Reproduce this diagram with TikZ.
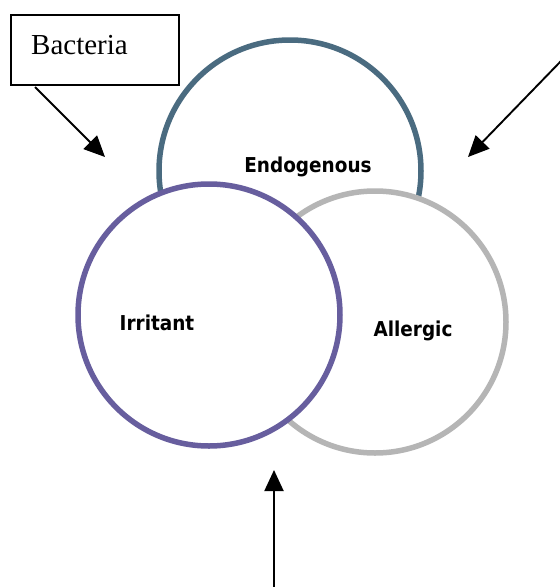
\documentclass[tikz,border=0pt]{standalone}
\usepackage{fontspec}
\setmainfont{Liberation Serif}
\newfontfamily\labelfont{DejaVu Sans Condensed}
\usetikzlibrary{arrows.meta,positioning}
\definecolor{endocol}{HTML}{4A6B80}
\definecolor{irrcol}{HTML}{675E9E}
\definecolor{allcol}{HTML}{B5B5B5}

\begin{document}
\begin{tikzpicture}[x=1pt,y=-1pt,
                          ring/.style={circle, line width=5.5pt, fill=white, minimum size=262pt, inner sep=0pt},
                          tag/.style={font=\labelfont\bfseries\fontsize{20.5}{22}\selectfont, inner sep=0pt, anchor=base},
                          box/.style={draw, line width=1.5pt, minimum width=168pt, minimum height=70pt, inner sep=0pt},
                          pointer/.style={line width=1.9pt, black, -{Triangle[length=21pt,width=19pt]}},
                         ]

\useasboundingbox (0,0) rectangle (560,587);

% the three rings
\node[ring, draw=endocol] (endo) at (290,171) {};
\node[ring, draw=allcol] (aller) at (375,322) {};
\node[ring, draw=irrcol] (irr) at (209,315) {};

\node[tag] (endolabel) at (308,172) {Endogenous};
\node[tag] (irrlabel) at (157,330) {Irritant};
\node[tag] (allerlabel) at (413,336) {Allergic};

% source box
\node[box] (bact) at (95,50) {};
\node[font=\fontsize{29}{31}\selectfont, anchor=base west, inner sep=0pt] (bacttext) at (31,54) {Bacteria};

\coordinate (bstart) at (35,87);
\coordinate (bend) at (105,157);
\coordinate (rstart) at (562,60);
\coordinate (rend) at (468,157);
\coordinate (ustart) at (274,590);
\coordinate (uend) at (274,470);

\draw[pointer] (bstart) -- (bend);
\draw[pointer] (rstart) -- (rend);
\draw[pointer] (ustart) -- (uend);

\end{tikzpicture}
\end{document}
